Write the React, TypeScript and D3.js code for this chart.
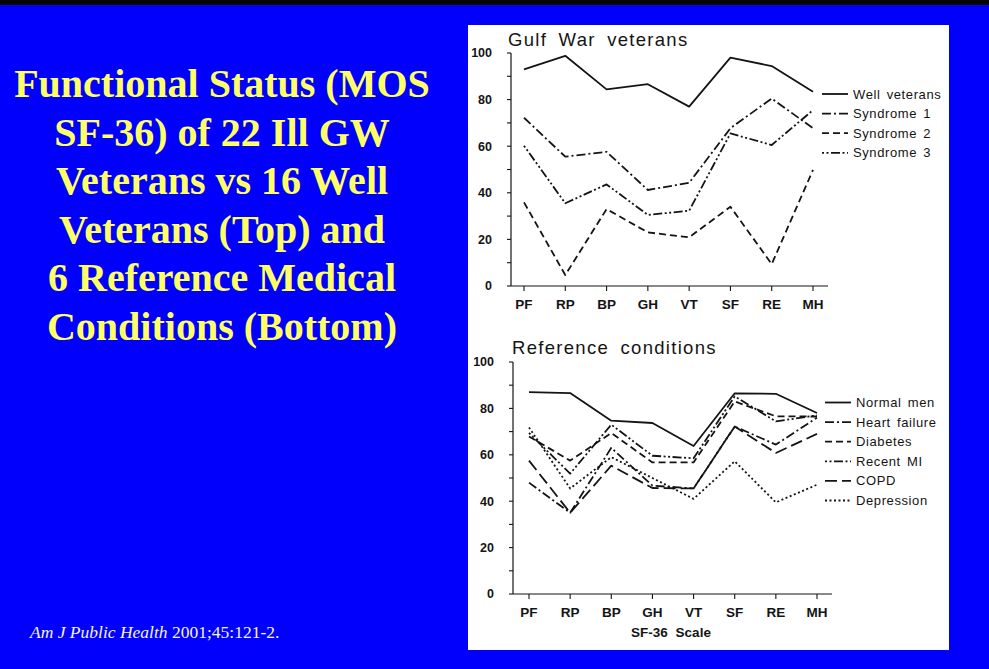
import React from "react";
import * as d3 from "d3";

// SF-36 subscales along the x axis
const scales = ["PF", "RP", "BP", "GH", "VT", "SF", "RE", "MH"];
const yTicks = [0, 20, 40, 60, 80, 100];

// Gulf War veterans panel
const gwNames = ["Well veterans", "Syndrome 1", "Syndrome 2", "Syndrome 3"];
const wellVeterans = [93, 98.8, 84.4, 86.6, 77, 98, 94.4, 83.4];
const syndrome1 = [72.2, 55.5, 57.6, 41.2, 44.3, 67.7, 80.5, 67.7];
const syndrome2 = [35.9, 4.7, 33, 23, 20.9, 34, 9.4, 49.8];
const syndrome3 = [60.2, 35.5, 43.6, 30.5, 32.3, 65.5, 60.5, 75.5];

// Reference conditions panel
const refNames = ["Normal men", "Heart failure", "Diabetes", "Recent MI", "COPD", "Depression"];
const normalMen = [87, 86.6, 74.7, 73.7, 63.8, 86.5, 86.3, 78];
const heartFailure = [48, 35, 63, 46.7, 45.5, 72.2, 64.4, 76];
const diabetes = [67.9, 57.5, 69.4, 56.7, 56.7, 83, 76.6, 76.5];
const recentMI = [69.4, 51.9, 73, 59.6, 58.5, 85.2, 74.4, 77];
const copd = [57.5, 35, 55.3, 45.7, 45.5, 72.2, 60.8, 69];
const depression = [71.8, 45.5, 59, 50, 41, 57.2, 39.5, 47.1];

const titleLines = [
  "Functional Status (MOS",
  "SF-36) of 22 Ill GW",
  "Veterans vs 16 Well",
  "Veterans (Top) and",
  "6 Reference Medical",
  "Conditions (Bottom)",
];

const DASH = {
  solid: "none",
  dashDot: "9,3,2,3",
  dashed: "7,4",
  dotDotDash: "2,2.5,2,2.5,9,2.5",
  longDash: "12,5",
  dotted: "2,2.5",
};

const INK = "#141414";
const SANS = "'Liberation Sans', Arial, Helvetica, sans-serif";

type Series = { name: string; values: number[]; dash: string };

type PanelProps = {
  title: string;
  titleX: number;
  titleY: number;
  series: Series[];
  axisX: number;
  axisEnd: number;
  xRange: [number, number];
  yRange: [number, number];
  legendX: number;
  legendY: number;
  xTitle?: string;
  xTitleX?: number;
};

function Panel(p: PanelProps) {
  const x = d3.scalePoint<string>().domain(scales).range(p.xRange);
  const y = d3.scaleLinear().domain([0, 100]).range(p.yRange);
  const line = d3
    .line<number>()
    .x((_, i) => x(scales[i]) as number)
    .y((d) => y(d));
  const minor = y.ticks(10);
  const legendStep = 19.6;
  return (
    <g>
      <text
        x={p.titleX}
        y={p.titleY}
        fontFamily={SANS}
        fontSize={18.5}
        letterSpacing={1.3}
        wordSpacing={5}
        fill={INK}
      >
        {p.title}
      </text>
      {/* y axis */}
      <line x1={p.axisX} x2={p.axisX} y1={y(100)} y2={y(0)} stroke={INK} strokeWidth={1.2} />
      {minor.map((t) => (
        <line key={t} x1={p.axisX - 4} x2={p.axisX} y1={y(t)} y2={y(t)} stroke={INK} strokeWidth={1.1} />
      ))}
      {yTicks.map((t) => (
        <text
          key={t}
          x={p.axisX - 19}
          y={y(t)}
          dy="0.35em"
          textAnchor="end"
          fontFamily={SANS}
          fontWeight="bold"
          fontSize={12.5}
          fill={INK}
        >
          {t}
        </text>
      ))}
      {/* x axis */}
      <line x1={p.axisX} x2={p.axisEnd} y1={y(0)} y2={y(0)} stroke={INK} strokeWidth={1.2} />
      {scales.map((s) => (
        <g key={s}>
          <line x1={x(s)} x2={x(s)} y1={y(0)} y2={y(0) + 5} stroke={INK} strokeWidth={1.1} />
          <text
            x={x(s)}
            y={y(0) + 18}
            dy="0.35em"
            textAnchor="middle"
            fontFamily={SANS}
            fontWeight="bold"
            fontSize={13.5}
            fill={INK}
          >
            {s}
          </text>
        </g>
      ))}
      {p.xTitle && (
        <text
          x={p.xTitleX}
          y={y(0) + 43}
          textAnchor="middle"
          fontFamily={SANS}
          fontWeight="bold"
          fontSize={13.5}
          wordSpacing={4}
          fill={INK}
        >
          {p.xTitle}
        </text>
      )}
      {/* series */}
      {p.series.map((s) => (
        <path
          key={s.name}
          d={line(s.values) ?? ""}
          fill="none"
          stroke={INK}
          strokeWidth={1.8}
          strokeDasharray={s.dash}
          strokeLinejoin="round"
        />
      ))}
      {/* legend */}
      {p.series.map((s, i) => {
        const ly = p.legendY + i * legendStep;
        return (
          <g key={s.name}>
            <line
              x1={p.legendX}
              x2={p.legendX + 26}
              y1={ly}
              y2={ly}
              stroke={INK}
              strokeWidth={1.8}
              strokeDasharray={s.dash}
            />
            <text
              x={p.legendX + 31}
              y={ly}
              dy="0.35em"
              fontFamily={SANS}
              fontSize={13}
              letterSpacing={0.6}
              wordSpacing={2}
              fill={INK}
            >
              {s.name}
            </text>
          </g>
        );
      })}
    </g>
  );
}

export default function App() {
  const gwSeries: Series[] = [
    { name: gwNames[0], values: wellVeterans, dash: DASH.solid },
    { name: gwNames[1], values: syndrome1, dash: DASH.dashDot },
    { name: gwNames[2], values: syndrome2, dash: DASH.dashed },
    { name: gwNames[3], values: syndrome3, dash: DASH.dotDotDash },
  ];
  const refSeries: Series[] = [
    { name: refNames[0], values: normalMen, dash: DASH.solid },
    { name: refNames[1], values: heartFailure, dash: DASH.dashDot },
    { name: refNames[2], values: diabetes, dash: DASH.dashed },
    { name: refNames[3], values: recentMI, dash: DASH.dotDotDash },
    { name: refNames[4], values: copd, dash: DASH.longDash },
    { name: refNames[5], values: depression, dash: DASH.dotted },
  ];
  return (
    <svg
      width={989}
      height={669}
      style={{ position: "absolute", left: 0, top: 0, display: "block" }}
    >
      <rect x={0} y={0} width={989} height={669} fill="#0000fc" />
      <rect x={0} y={0} width={989} height={5} fill="#050505" />
      {titleLines.map((t, i) => (
        <text
          key={i}
          x={222}
          y={97 + i * 48.5}
          textAnchor="middle"
          fontFamily="'Liberation Serif', 'Times New Roman', serif"
          fontWeight="bold"
          fontSize={40}
          fill="#ffff66"
        >
          {t}
        </text>
      ))}
      <text
        x={30}
        y={638}
        fontFamily="'Liberation Serif', 'Times New Roman', serif"
        fontSize={17.5}
        fill="#f4f4f4"
      >
        <tspan fontStyle="italic">Am J Public Health</tspan> 2001;45:121-2.
      </text>
      <rect x={468} y={25} width={481} height={625} fill="#ffffff" />
      <Panel
        title="Gulf War veterans"
        titleX={508}
        titleY={46}
        series={gwSeries}
        axisX={511}
        axisEnd={828}
        xRange={[524, 813]}
        yRange={[286, 53]}
        legendX={822}
        legendY={94}
      />
      <Panel
        title="Reference conditions"
        titleX={512}
        titleY={354}
        series={refSeries}
        axisX={513}
        axisEnd={832}
        xRange={[529, 817]}
        yRange={[594, 362]}
        legendX={825}
        legendY={402.5}
        xTitle="SF-36 Scale"
        xTitleX={671}
      />
    </svg>
  );
}
